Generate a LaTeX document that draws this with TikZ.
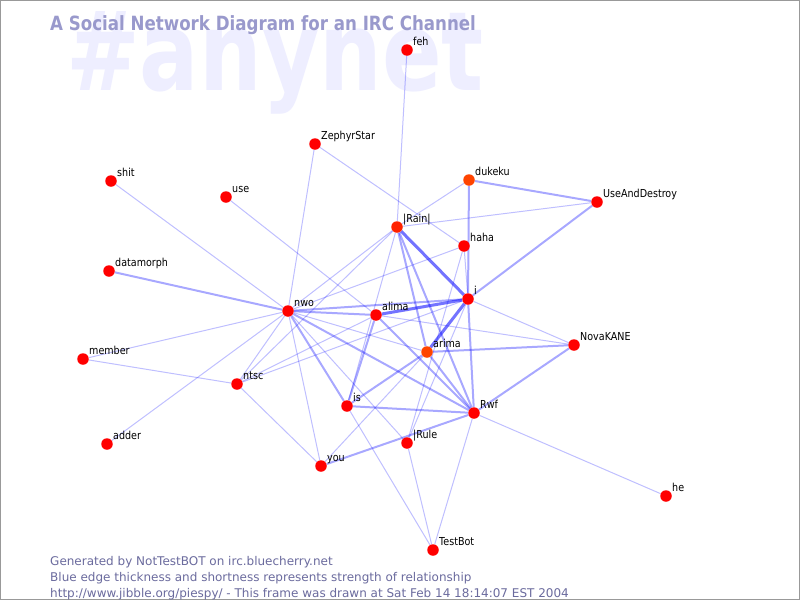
\documentclass[tikz,border=0pt]{standalone}
\usepackage{fontspec}
\setmainfont{DejaVu Sans}
\newfontfamily\labfont[FakeStretch=0.87]{DejaVu Sans}
\newfontfamily\footfont{DejaVu Sans}
\newfontfamily\ttlfont[FakeStretch=0.85]{DejaVu Sans}
\newfontfamily\wmfont[FakeStretch=0.8]{DejaVu Sans}
\definecolor{ttlcol}{HTML}{9999CC}
\definecolor{footcol}{HTML}{6B6B9E}
\definecolor{wmcol}{HTML}{EEEEFF}
\definecolor{orng}{HTML}{FF4400}
\definecolor{orng2}{HTML}{FF2200}
\pgfdeclarelayer{wm}
\pgfdeclarelayer{edges}
\pgfsetlayers{wm,edges,main}
\begin{document}
\begin{tikzpicture}[x=1pt,y=-1pt,
  person/.style={circle,inner sep=0pt,minimum size=11.5pt,fill=red,draw=none},
  lab/.style={font=\labfont\fontsize{11}{11}\selectfont,inner sep=0pt,anchor=base west,text=black},
  foot/.style={font=\footfont\fontsize{12}{12}\selectfont,inner sep=0pt,anchor=base west,text=footcol},
  e1/.style={draw=blue,draw opacity=0.25,line width=1pt},
  e2/.style={draw=blue,draw opacity=0.34,line width=2pt},
  e3/.style={draw=blue,draw opacity=0.55,line width=3pt}]
\useasboundingbox (0,0) rectangle (800,600);
\begin{pgfonlayer}{wm}
\fill[white] (0,0) rectangle (800,600);
\node[inner sep=0pt,anchor=base west,text=wmcol,font=\wmfont\bfseries\fontsize{110}{110}\selectfont] (wm) at (66,90) {\#anynet};
\end{pgfonlayer}
\draw[gray!80,line width=1pt] (0.5,0.5) rectangle (799.5,599.5);
\node[inner sep=0pt,anchor=base west,text=ttlcol,font=\ttlfont\bfseries\fontsize{19.6}{20}\selectfont] (title) at (50,30) {A Social Network Diagram for an IRC Channel};
\node[foot] (f1) at (50,565) {Generated by NotTestBOT on irc.bluecherry.net};
\node[foot] (f2) at (50,581) {Blue edge thickness and shortness represents strength of relationship};
\node[foot] (f3) at (50,597) {http://www.jibble.org/piespy/ - This frame was drawn at Sat Feb 14 18:14:07 EST 2004};
% people
\foreach \n/\x/\y/\t/\c in {
  feh/407/50/feh/red,
  zephyr/315/144/ZephyrStar/red,
  shit/111/181/shit/red,
  use/226/197/use/red,
  dukeku/469/180/dukeku/orng,
  uad/597/202/UseAndDestroy/red,
  rain/397/227/|Rain|/orng2,
  haha/464/246/haha/red,
  datamorph/109/271/datamorph/red,
  i/468/299/i/red,
  nwo/288/311/nwo/red,
  alima/376/315/alima/red,
  nova/574/345/NovaKANE/red,
  arima/427/352/arima/orng,
  member/83/359/member/red,
  ntsc/237/384/ntsc/red,
  is/347/406/is/red,
  rwf/474/413/Rwf/red,
  rule/407/443/|Rule/red,
  adder/107/444/adder/red,
  you/321/466/you/red,
  he/666/496/he/red,
  testbot/433/550/TestBot/red}{
  \node[person,fill=\c] (\n) at (\x,\y) {};
  \node[lab] (\n-l) at ([xshift=6pt,yshift=5pt]\n.center) {\t};
}
\begin{pgfonlayer}{edges}
\foreach \a/\b in {feh/rain,zephyr/nwo,zephyr/haha,shit/nwo,member/nwo,member/ntsc,adder/nwo,
  nwo/ntsc,ntsc/you,ntsc/alima,ntsc/i,ntsc/rain,nwo/you,nwo/rule,nwo/haha,rain/dukeku,rain/uad,
  haha/i,rwf/he,is/testbot,rule/testbot,rwf/testbot,you/arima,rule/i,rule/haha,nwo/arima,
  i/nova,alima/nova,use/alima,nwo/rain,rain/is}
  \draw[e1] (\a) -- (\b);
\foreach \a/\b in {datamorph/nwo,nwo/i,nwo/alima,nwo/rwf,nwo/is,rain/arima,
  rain/rwf,uad/dukeku,uad/i,alima/is,alima/rwf,arima/is,arima/rwf,arima/nova,is/rwf,you/rwf,
  rwf/nova,dukeku/i,i/rwf}
  \draw[e2] (\a) -- (\b);
\foreach \a/\b in {rain/i,alima/i,arima/i}
  \draw[e3] (\a) -- (\b);
\end{pgfonlayer}
\end{tikzpicture}
\end{document}
